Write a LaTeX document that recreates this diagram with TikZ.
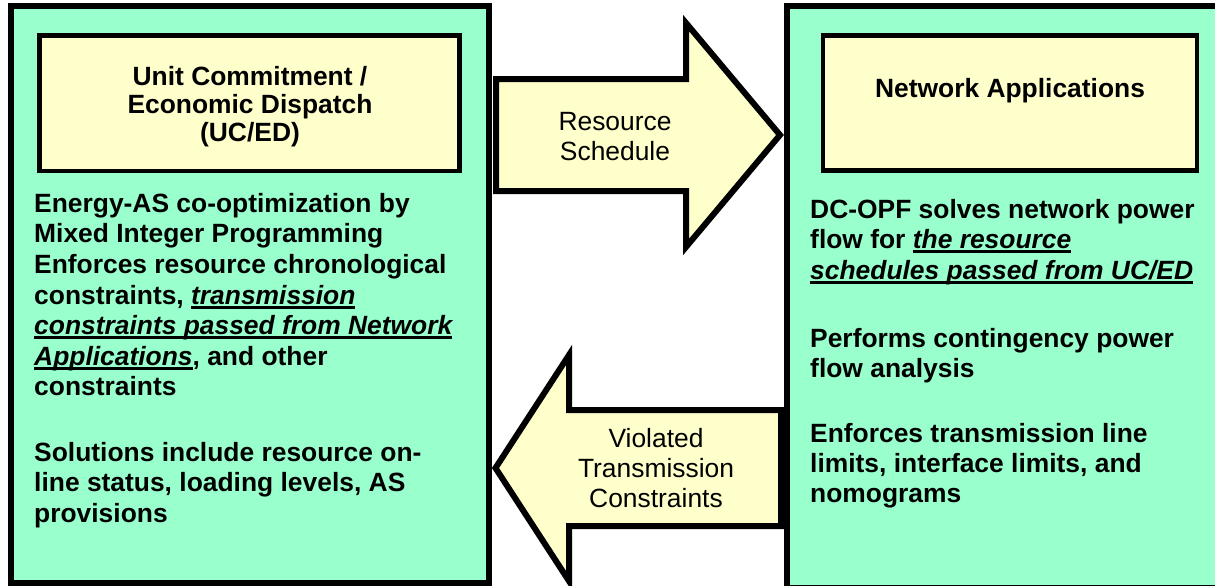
\documentclass[tikz,border=0pt]{standalone}
\usepackage{fontspec}
\setmainfont{Liberation Sans}
\definecolor{boxgreen}{HTML}{99FFCC}
\definecolor{boxyellow}{HTML}{FFFFCC}
\newcommand\myul[1]{\setbox0\hbox{#1}\rlap{\rule[-5pt]{\wd0}{3pt}}\box0}
\begin{document}
\begin{tikzpicture}[x=1pt,y=-1pt,
  outerbox/.style={draw=black,line width=6pt,fill=boxgreen,outer sep=0pt,inner sep=0pt,anchor=north west},
  innerbox/.style={draw=black,line width=4.4pt,fill=boxyellow,outer sep=0pt,inner sep=0pt,anchor=north west},
  bigarrow/.style={draw=black,line width=6pt,fill=boxyellow,line join=miter},
  bodytext/.style={anchor=base west,inner sep=0pt,font=\fontsize{26.4}{30.5}\selectfont\bfseries},
  titletext/.style={anchor=base,inner sep=0pt,font=\fontsize{26.4}{28}\selectfont\bfseries},
  arrowlabel/.style={anchor=base,inner sep=0pt,font=\fontsize{26.4}{30}\selectfont}]
\clip (0,0) rectangle (1215,586);
\fill[white] (0,0) rectangle (1215,586);
% outer boxes
\node[outerbox,minimum width=478pt,minimum height=577pt] (ucbox) at (11,6) {};
\node[outerbox,minimum width=440pt,minimum height=582pt] (nabox) at (787,6) {};
% inner title boxes
\node[innerbox,minimum width=420pt,minimum height=135.5pt] (uctitle) at (39.5,35.5) {};
\node[innerbox,minimum width=374pt,minimum height=135pt] (natitle) at (823,35.5) {};
% arrows
\draw[bigarrow] (496,79) -- (686,79) -- (686,23) -- (780,135) -- (686,247) -- (686,191) -- (496,191) -- cycle;
\draw[bigarrow] (781,410) -- (569,410) -- (569,355) -- (495.5,468) -- (569,581) -- (569,526) -- (781,526) -- cycle;
% arrow labels
\node[arrowlabel] (rs1) at (615,130) {Resource};
\node[arrowlabel] (rs2) at (615,160) {Schedule};
\node[arrowlabel] (vt1) at (656,447) {Violated};
\node[arrowlabel] (vt2) at (656,477) {Transmission};
\node[arrowlabel] (vt3) at (656,507) {Constraints};
% titles
\node[titletext] (t1) at (250,85) {Unit Commitment /};
\node[titletext] (t2) at (250,113) {Economic Dispatch};
\node[titletext] (t3) at (250,141) {(UC/ED)};
\node[titletext] (t4) at (1010,97) {Network Applications};
% left body text
\node[bodytext] (l1) at (34,212) {Energy-AS co-optimization by};
\node[bodytext] (l2) at (34,242) {Mixed Integer Programming};
\node[bodytext] (l3) at (34,273) {Enforces resource chronological};
\node[bodytext] (l4) at (34,304) {constraints, \myul{\itshape transmission}};
\node[bodytext] (l5) at (34,334) {\myul{\itshape constraints passed from Network}};
\node[bodytext] (l6) at (34,365) {\myul{\itshape Applications}, and other};
\node[bodytext] (l7) at (34,395) {constraints};
\node[bodytext] (l8) at (34,461) {Solutions include resource on-};
\node[bodytext] (l9) at (34,491) {line status, loading levels, AS};
\node[bodytext] (l10) at (34,522) {provisions};
% right body text
\node[bodytext] (r1) at (810,218) {DC-OPF solves network power};
\node[bodytext] (r2) at (810,248) {flow for \myul{\itshape the resource}};
\node[bodytext] (r3) at (810,279) {\myul{\itshape schedules passed from UC/ED}};
\node[bodytext] (r4) at (810,347) {Performs contingency power};
\node[bodytext] (r5) at (810,377) {flow analysis};
\node[bodytext] (r6) at (810,442) {Enforces transmission line};
\node[bodytext] (r7) at (810,472) {limits, interface limits, and};
\node[bodytext] (r8) at (810,502) {nomograms};
\end{tikzpicture}
\end{document}
